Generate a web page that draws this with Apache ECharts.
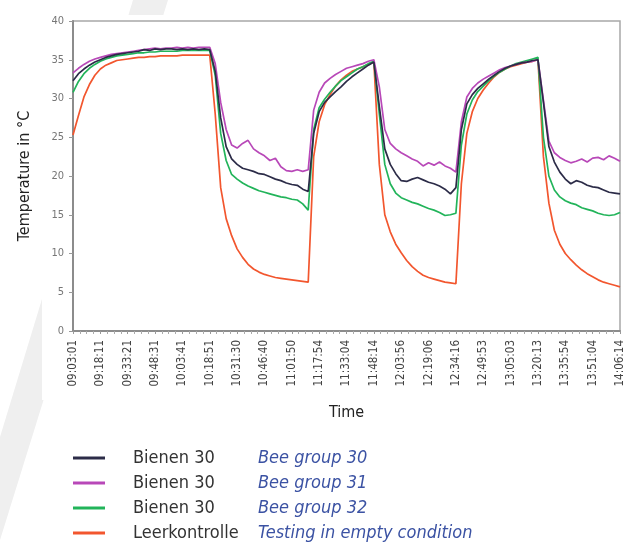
<!DOCTYPE html>
<html>
<head>
<meta charset="utf-8">
<script src="https://cdn.jsdelivr.net/npm/echarts@6/dist/echarts.min.js"></script>
<style>
  html, body { margin: 0; padding: 0; background: #fff; }
  #chart { width: 640px; height: 543px; }
</style>
</head>
<body>
<div id="chart"></div>
<script>
// tick labels of the time axis (one per grid step)
const timeLabels = ['09:03:01', '09:18:11', '09:33:21', '09:48:31', '10:03:41', '10:18:51', '10:31:30',
  '10:46:40', '11:01:50', '11:17:54', '11:33:04', '11:48:14', '12:03:56', '12:19:06', '12:34:16',
  '12:49:53', '13:05:03', '13:20:13', '13:35:54', '13:51:04', '14:06:14']

// samples are read every 1/5 of a tick interval
const step = 0.2

const germanNames = ['Bienen 30', 'Bienen 30', 'Bienen 30', 'Leerkontrolle']
const englishNames = ['Bee group 30', 'Bee group 31', 'Bee group 32', 'Testing in empty condition']
const colors = ['#2c2c48', '#b848b8', '#22b45a', '#f2562e']

const bee30 = [
  32.3, 33.2, 33.8, 34.3, 34.7, 35.0, 35.3, 35.5, 35.7, 35.8, 35.9, 36.0, 36.1, 36.3, 36.2, 36.4, 36.3, 36.4, 36.4, 36.3, 36.4, 36.3, 36.4, 36.3, 36.4, 36.3,
  33.5, 27.5, 23.8, 22.2, 21.5, 21.0, 20.8, 20.6, 20.3, 20.2, 19.9, 19.6, 19.4, 19.1, 18.9, 18.8, 18.3, 18.0,
  25.5, 28.3, 29.5, 30.2, 30.9, 31.5, 32.2, 32.8, 33.3, 33.8, 34.3, 34.7,
  29.0, 23.5, 21.5, 20.3, 19.4, 19.3, 19.6, 19.8, 19.5, 19.2, 19.0, 18.7, 18.3, 17.7, 18.5,
  26.0, 29.3, 30.5, 31.3, 31.9, 32.5, 33.0, 33.5, 33.9, 34.2, 34.4, 34.6, 34.7, 34.9, 35.0,
  29.5, 23.8, 21.8, 20.5, 19.6, 19.0, 19.4, 19.2, 18.8, 18.6, 18.5, 18.2, 17.9, 17.8, 17.7
]
const bee31 = [
  33.3, 33.9, 34.4, 34.8, 35.1, 35.3, 35.5, 35.7, 35.8, 35.9, 36.0, 36.1, 36.2, 36.3, 36.4, 36.5, 36.4, 36.5, 36.5, 36.6, 36.5, 36.6, 36.5, 36.6, 36.6, 36.6,
  34.5, 29.5, 26.0, 24.0, 23.6, 24.2, 24.6, 23.5, 23.0, 22.6, 22.0, 22.3, 21.2, 20.7, 20.6, 20.8, 20.6, 20.8,
  28.5, 30.8, 32.0, 32.6, 33.1, 33.5, 33.9, 34.1, 34.3, 34.5, 34.8, 35.0,
  31.5, 26.0, 24.2, 23.5, 23.0, 22.6, 22.2, 21.9, 21.3, 21.7, 21.4, 21.8, 21.3, 21.0, 20.5,
  27.0, 30.2, 31.3, 32.0, 32.5, 32.9, 33.3, 33.7, 34.0, 34.2, 34.4, 34.6, 34.7, 34.8, 35.0,
  29.8, 24.5, 23.0, 22.4, 22.0, 21.7, 21.9, 22.2, 21.8, 22.3, 22.4, 22.1, 22.6, 22.3, 21.9
]
const bee32 = [
  30.8, 32.2, 33.2, 33.9, 34.4, 34.8, 35.1, 35.3, 35.5, 35.6, 35.7, 35.8, 35.9, 35.9, 36.0, 36.0, 36.1, 36.1, 36.1, 36.1, 36.2, 36.2, 36.2, 36.2, 36.2, 36.2,
  33.0, 25.5, 22.0, 20.2, 19.6, 19.1, 18.7, 18.4, 18.1, 17.9, 17.7, 17.5, 17.3, 17.2, 17.0, 16.9, 16.4, 15.6,
  26.0, 28.8, 29.9, 30.8, 31.6, 32.3, 32.8, 33.3, 33.8, 34.1, 34.5, 34.8,
  28.0, 21.5, 19.0, 17.8, 17.2, 16.9, 16.6, 16.4, 16.1, 15.8, 15.6, 15.3, 14.9, 15.0, 15.2,
  24.0, 28.0, 29.8, 30.9, 31.6, 32.3, 32.9, 33.4, 33.8, 34.2, 34.5, 34.7, 34.9, 35.1, 35.3,
  25.0, 20.0, 18.2, 17.3, 16.8, 16.5, 16.3, 15.9, 15.7, 15.5, 15.2, 15.0, 14.9, 15.0, 15.3
]
const emptyControl = [
  25.3, 27.8, 30.2, 31.8, 33.0, 33.8, 34.3, 34.6, 34.9, 35.0, 35.1, 35.2, 35.3, 35.3, 35.4, 35.4, 35.5, 35.5, 35.5, 35.5, 35.6, 35.6, 35.6, 35.6, 35.6, 35.6,
  28.0, 18.5, 14.5, 12.3, 10.6, 9.5, 8.6, 8.0, 7.6, 7.3, 7.1, 6.9, 6.8, 6.7, 6.6, 6.5, 6.4, 6.3,
  22.5, 27.0, 29.2, 30.5, 31.6, 32.4, 33.0, 33.5, 33.8, 34.1, 34.4, 34.7,
  21.5, 15.0, 12.8, 11.2, 10.1, 9.1, 8.3, 7.7, 7.2, 6.9, 6.7, 6.5, 6.3, 6.2, 6.1,
  19.0, 25.5, 28.3, 30.0, 31.1, 32.0, 32.8, 33.4, 33.8, 34.1, 34.3, 34.5, 34.7, 34.8, 35.0,
  22.5, 16.5, 13.0, 11.2, 10.0, 9.2, 8.5, 7.9, 7.4, 7.0, 6.6, 6.3, 6.1, 5.9, 5.7
]

const seriesValues = [bee30, bee31, bee32, emptyControl]
const font = '"Liberation Sans Narrow", "DejaVu Sans Condensed", Roboto, sans-serif'

var myChart = echarts.init(document.getElementById('chart'))

var option = {
  animation: false,
  textStyle: { fontFamily: font },
  graphic: [
    {
      // light diagonal stripe behind the chart
      type: 'polygon',
      z: -10,
      shape: { points: [[133, 0], [168, 0], [0, 540], [0, 437]] },
      style: { fill: '#efefef' }
    },
    {
      // white panel of the chart that hides the stripe
      type: 'rect',
      z: -9,
      shape: { x: 42, y: 15, width: 598, height: 385 },
      style: { fill: '#fff' }
    }
  ],
  grid: {
    left: 73, right: 20, top: 21, bottom: 212,
    show: true,
    backgroundColor: '#fff',
    borderColor: '#a8a8a8',
    borderWidth: 1.5
  },
  legend: {
    orient: 'vertical',
    left: 68,
    top: 444,
    height: 130,
    itemGap: 7,
    itemWidth: 32,
    itemHeight: 3,
    icon: 'rect',
    data: englishNames,
    formatter: function (name) {
      var idx = englishNames.indexOf(name)
      return '{sp|}{de|' + germanNames[idx] + '}{en|' + name + '}'
    },
    textStyle: {
      rich: {
        sp: { width: 23 },
        de: { width: 125, fontSize: 18, lineHeight: 19, color: '#333', fontFamily: font },
        en: { fontSize: 18, lineHeight: 19, color: '#3b52a3', fontStyle: 'italic', fontFamily: font }
      }
    }
  },
  xAxis: {
    type: 'value',
    min: 0,
    max: 20,
    interval: 1,
    name: 'Time',
    nameLocation: 'middle',
    nameGap: 74,
    nameTextStyle: { fontSize: 16, color: '#222', fontFamily: font },
    axisLine: { lineStyle: { color: '#8c8c8c', width: 2 } },
    axisTick: { show: true, length: 3, lineStyle: { color: '#999' } },
    minorTick: { show: true, splitNumber: 4, length: 3, lineStyle: { color: '#aaa' } },
    splitLine: { show: false },
    axisLabel: {
      rotate: 90,
      margin: 9,
      fontSize: 11.5,
      color: '#444',
      formatter: function (v) { return timeLabels[v] }
    }
  },
  yAxis: {
    type: 'value',
    min: 0,
    max: 40,
    interval: 5,
    name: 'Temperature in °C',
    nameLocation: 'middle',
    nameGap: 40,
    nameTextStyle: { fontSize: 16, color: '#222', fontFamily: font },
    axisLine: { show: true, lineStyle: { color: '#8c8c8c', width: 2 } },
    axisTick: { show: true, length: 4, lineStyle: { color: '#999' } },
    splitLine: { show: false },
    axisLabel: { fontSize: 11, color: '#777', margin: 9 }
  },
  series: seriesValues.map(function (vals, s) {
    return {
      name: englishNames[s],
      type: 'line',
      showSymbol: false,
      color: colors[s],
      lineStyle: { width: 1.7, color: colors[s] },
      z: 10 - s,
      data: vals.map(function (v, i) { return [i * step, v] })
    }
  })
}

myChart.setOption(option)
</script>
</body>
</html>
